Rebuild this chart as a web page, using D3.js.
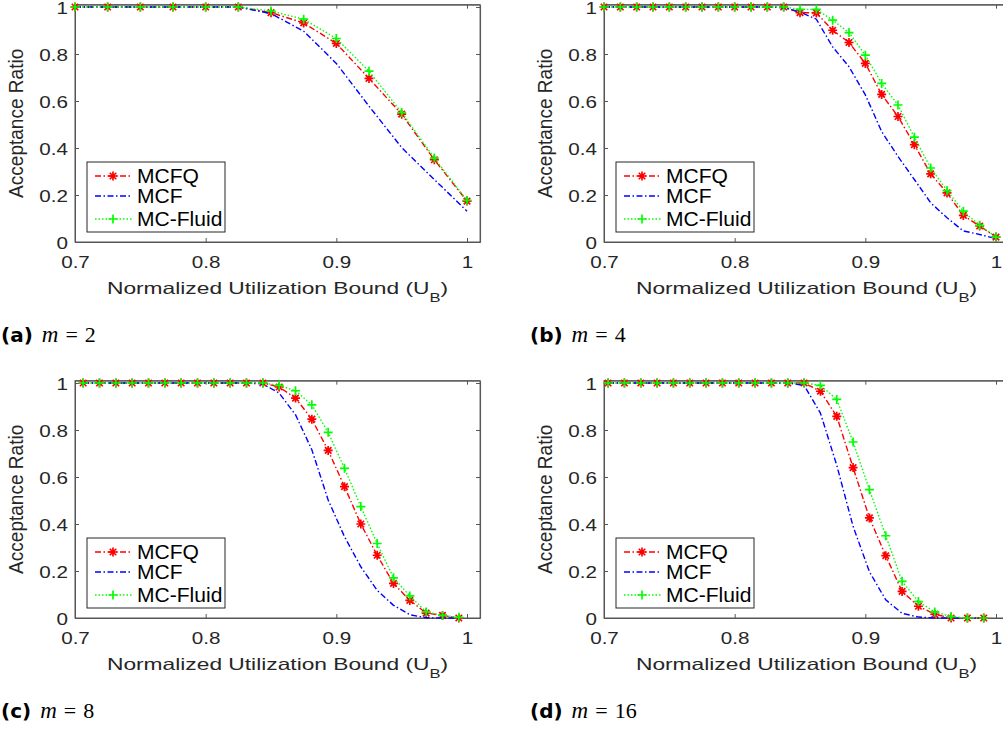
<!DOCTYPE html>
<html><head><meta charset="utf-8">
<script src="https://cdn.jsdelivr.net/npm/d3@7"></script>
<style>
html,body{margin:0;padding:0;background:#fff;}
svg{display:block;}
</style></head>
<body>
<svg id="chart" width="1003" height="735"></svg>
<script>
// ---------- data ----------
const seriesNames = ["MCFQ", "MCF", "MC-Fluid"];
const xTickValues = [0.7, 0.8, 0.9, 1];
const xTickLabels = ["0.7", "0.8", "0.9", "1"];
const yTickValues = [0, 0.2, 0.4, 0.6, 0.8, 1];
const yTickLabels = ["0", "0.2", "0.4", "0.6", "0.8", "1"];
const xLabel = "Normalized Utilization Bound (U";
const xLabelSub = "B";
const yLabel = "Acceptance Ratio";
const captionTags = ["(a)", "(b)", "(c)", "(d)"];
const captionM = ["2", "4", "8", "16"];

// panel (a) m = 2
const xA = [0.7,0.725,0.75,0.775,0.8,0.825,0.85,0.875,0.9,0.925,0.95,0.975,1.0];
const mcfqA  = [1,1,1,1,1,1,0.976,0.932,0.845,0.696,0.544,0.350,0.174];
const mcfA   = [1,1,1,1,1,1,0.972,0.897,0.760,0.578,0.402,0.266,0.131];
const fluidA = [1,1,1,1,1,1,0.983,0.948,0.866,0.727,0.551,0.357,0.177];

// panel (b) m = 4
const xB = [0.7,0.7125,0.725,0.7375,0.75,0.7625,0.775,0.7875,0.8,0.8125,0.825,0.8375,
            0.85,0.8625,0.875,0.8875,0.9,0.9125,0.925,0.9375,0.95,0.9625,0.975,0.9875,1.0];
const mcfqB  = [1,1,1,1,1,1,1,1,1,1,1,1,0.976,0.975,0.901,0.849,0.760,0.628,0.534,0.414,0.290,0.209,0.113,0.068,0.021];
const mcfB   = [1,1,1,1,1,1,1,1,1,1,1,0.997,0.979,0.948,0.830,0.746,0.626,0.470,0.364,0.266,0.167,0.103,0.047,0.032,0.014];
const fluidB = [1,1,1,1,1,1,1,1,1,1,1,1,0.990,0.990,0.944,0.891,0.795,0.675,0.583,0.446,0.315,0.219,0.131,0.071,0.021];

// panel (c) m = 8
const xC = [0.70625,0.71875,0.73125,0.74375,0.75625,0.76875,0.78125,0.79375,0.80625,0.81875,0.83125,0.84375,
            0.85625,0.86875,0.88125,0.89375,0.90625,0.91875,0.93125,0.94375,0.95625,0.96875,0.98125,0.99375];
const mcfqC  = [1,1,1,1,1,1,1,1,1,1,1,1,0.983,0.936,0.846,0.713,0.559,0.400,0.267,0.147,0.075,0.021,0.011,0.0];
const mcfC   = [1,1,1,1,1,1,1,1,1,1,1,0.996,0.957,0.865,0.716,0.502,0.346,0.218,0.118,0.054,0.014,0.001,0,0];
const fluidC = [1,1,1,1,1,1,1,1,1,1,1,1,0.990,0.967,0.907,0.790,0.637,0.474,0.317,0.171,0.094,0.026,0.011,0.003];

// panel (d) m = 16
const xD = [0.703125,0.715625,0.728125,0.740625,0.753125,0.765625,0.778125,0.790625,0.803125,0.815625,0.828125,0.840625,
            0.853125,0.865625,0.878125,0.890625,0.903125,0.915625,0.928125,0.940625,0.953125,0.965625,0.978125,0.990625];
const mcfqD  = [1,1,1,1,1,1,1,1,1,1,1,1,1,0.965,0.858,0.640,0.426,0.265,0.113,0.050,0.016,0,0,0];
const mcfD   = [1,1,1,1,1,1,1,1,1,1,1,1,0.990,0.872,0.650,0.390,0.197,0.077,0.020,0.004,0,0,0,0];
const fluidD = [1,1,1,1,1,1,1,1,1,1,1,1,1,0.990,0.930,0.749,0.546,0.350,0.156,0.070,0.026,0.006,0,0];

const panelData = [
  {x: xA, s: [mcfqA, mcfA, fluidA]},
  {x: xB, s: [mcfqB, mcfB, fluidB]},
  {x: xC, s: [mcfqC, mcfC, fluidC]},
  {x: xD, s: [mcfqD, mcfD, fluidD]}
];

// ---------- layout / style ----------
const layout = [
  {left: 75,  bottom: 242},
  {left: 604, bottom: 242},
  {left: 75,  bottom: 618},
  {left: 604, bottom: 618}
];
const pxPerUnitX = 392 / 0.3;
const pxPerUnitY = 235;
const styles = [
  {color: "#ff0000", dash: "6,2.5,1.5,2.5", marker: "star"},
  {color: "#0000ff", dash: "6,2.5,1.5,2.5", marker: null},
  {color: "#00ff00", dash: "1.5,2", marker: "plus"}
];
const axisColor = "#555";
const FONT = "'Liberation Sans', Arial, Helvetica, sans-serif";

const svg = d3.select("#chart");

function markerPath(type, r) {
  if (type === "plus") return `M${-r},0H${r}M0,${-r}V${r}`;
  const d = r * 0.72;
  return `M${-r},0H${r}M0,${-r}V${r}M${-d},${-d}L${d},${d}M${-d},${d}L${d},${-d}`;
}

panelData.forEach((pd, pi) => {
  const L = layout[pi];
  const x = d3.scaleLinear().domain([0.7, 1.01]).range([L.left, L.left + 0.31 * pxPerUnitX]);
  const y = d3.scaleLinear().domain([0, 1.01]).range([L.bottom, L.bottom - 1.01 * pxPerUnitY]);
  const g = svg.append("g");

  const clipId = "clip" + pi;
  g.append("clipPath").attr("id", clipId).append("rect")
    .attr("x", x(0.7) - 6).attr("y", y(1.01) - 6)
    .attr("width", x(1.01) - x(0.7) + 12).attr("height", y(0) - y(1.01) + 12);

  // box (top/right)
  g.append("rect").attr("x", x(0.7)).attr("y", y(1.01))
    .attr("width", x(1.01) - x(0.7)).attr("height", y(0) - y(1.01))
    .attr("fill", "none").attr("stroke", axisColor).attr("stroke-width", 1);

  // bottom axis
  const xAxis = g.append("g").attr("transform", `translate(0,${y(0)})`)
    .call(d3.axisBottom(x).tickValues(xTickValues).tickSize(-4).tickSizeOuter(0)
      .tickFormat((d, i) => xTickLabels[i]));
  // top axis ticks
  const xAxisTop = g.append("g").attr("transform", `translate(0,${y(1.01)})`)
    .call(d3.axisTop(x).tickValues(xTickValues).tickSize(-4).tickSizeOuter(0).tickFormat(""));
  // left axis
  const yAxis = g.append("g").attr("transform", `translate(${x(0.7)},0)`)
    .call(d3.axisLeft(y).tickValues(yTickValues).tickSize(-4).tickSizeOuter(0)
      .tickFormat((d, i) => yTickLabels[i]));
  // right axis ticks
  const yAxisR = g.append("g").attr("transform", `translate(${x(1.01)},0)`)
    .call(d3.axisRight(y).tickValues(yTickValues).tickSize(-4).tickSizeOuter(0).tickFormat(""));

  [xAxis, xAxisTop, yAxis, yAxisR].forEach(a => {
    a.select(".domain").attr("stroke", axisColor);
    a.selectAll(".tick line").attr("stroke", axisColor);
  });
  xAxis.selectAll(".tick text")
    .attr("font-family", FONT).attr("font-size", 16.5).attr("fill", "#262626")
    .attr("y", 0).attr("dy", 0)
    .attr("transform", "translate(0,26) scale(1.25,1)");
  yAxis.selectAll(".tick text")
    .attr("font-family", FONT).attr("font-size", 16.5).attr("fill", "#262626")
    .attr("x", 0).attr("dy", 0).attr("text-anchor", "end")
    .attr("transform", "translate(-7,6) scale(1.25,1)");

  // axis labels
  const cx = (x(0.7) + x(1.01)) / 2;
  const xl = g.append("text")
    .attr("transform", `translate(${cx},${y(0) + 52}) scale(1.38,1)`)
    .attr("text-anchor", "middle").attr("font-family", FONT).attr("font-size", 16.5).attr("fill", "#262626");
  xl.append("tspan").text(xLabel);
  xl.append("tspan").attr("font-size", 12).attr("dy", 8).text(xLabelSub);
  xl.append("tspan").attr("dy", -8).text(")");

  g.append("text")
    .attr("transform", `translate(${x(0.7) - 52},${(y(0) + y(1.01)) / 2}) rotate(-90) scale(1.12,1.2)`)
    .attr("text-anchor", "middle").attr("font-family", FONT).attr("font-size", 17).attr("fill", "#262626")
    .text(yLabel);

  // series
  const plot = g.append("g").attr("clip-path", `url(#${clipId})`);
  pd.s.forEach((vals, si) => {
    const st = styles[si];
    const pts = pd.x.map((xv, k) => [xv, vals[k]]);
    plot.append("path").datum(pts)
      .attr("d", d3.line().x(d => x(d[0])).y(d => y(d[1])))
      .attr("fill", "none").attr("stroke", st.color).attr("stroke-width", 1.4)
      .attr("stroke-dasharray", st.dash);
    if (st.marker) {
      plot.selectAll(null).data(pts).enter().append("path")
        .attr("transform", d => `translate(${x(d[0])},${y(d[1])})`)
        .attr("d", markerPath(st.marker, 4.5))
        .attr("fill", "none").attr("stroke", st.color).attr("stroke-width", 1.7);
    }
  });

  // legend
  const lx = x(0.7) + 12, ly = y(0) - 80;
  const lg = g.append("g").attr("transform", `translate(${lx},${ly})`);
  lg.append("rect").attr("width", 138).attr("height", 70)
    .attr("fill", "#fff").attr("stroke", "#262626").attr("stroke-width", 1);
  const rowsY = [14, 34, 57];
  seriesNames.forEach((name, si) => {
    const st = styles[si];
    lg.append("line").attr("x1", 8).attr("x2", 45).attr("y1", rowsY[si]).attr("y2", rowsY[si])
      .attr("stroke", st.color).attr("stroke-width", 1.4).attr("stroke-dasharray", st.dash);
    if (st.marker) {
      lg.append("path").attr("transform", `translate(26,${rowsY[si]})`)
        .attr("d", markerPath(st.marker, 4.5))
        .attr("fill", "none").attr("stroke", st.color).attr("stroke-width", 1.7);
    }
    lg.append("text").attr("transform", `translate(50,${rowsY[si] + 7}) scale(1.08,1)`)
      .attr("font-family", FONT).attr("font-size", 19.5).attr("fill", "#000").text(name);
  });

  // caption
  const capX = pi % 2 === 0 ? 1 : 530;
  const capY = y(0) + 100;
  const cap = g.append("text").attr("x", capX).attr("y", capY).attr("font-size", 20).attr("fill", "#000");
  cap.append("tspan").attr("font-family", "'DejaVu Sans', sans-serif").attr("font-weight", "bold").text(captionTags[pi]);
  cap.append("tspan").attr("dx", 9).attr("font-family", "'Liberation Serif', serif").attr("font-style", "italic").attr("font-size", 23).text("m");
  cap.append("tspan").attr("dx", 7).attr("font-family", "'Liberation Serif', serif").attr("font-size", 22).text("=");
  cap.append("tspan").attr("dx", 7).attr("font-family", "'Liberation Serif', serif").attr("font-size", 22).text(captionM[pi]);
});
</script>
</body></html>
